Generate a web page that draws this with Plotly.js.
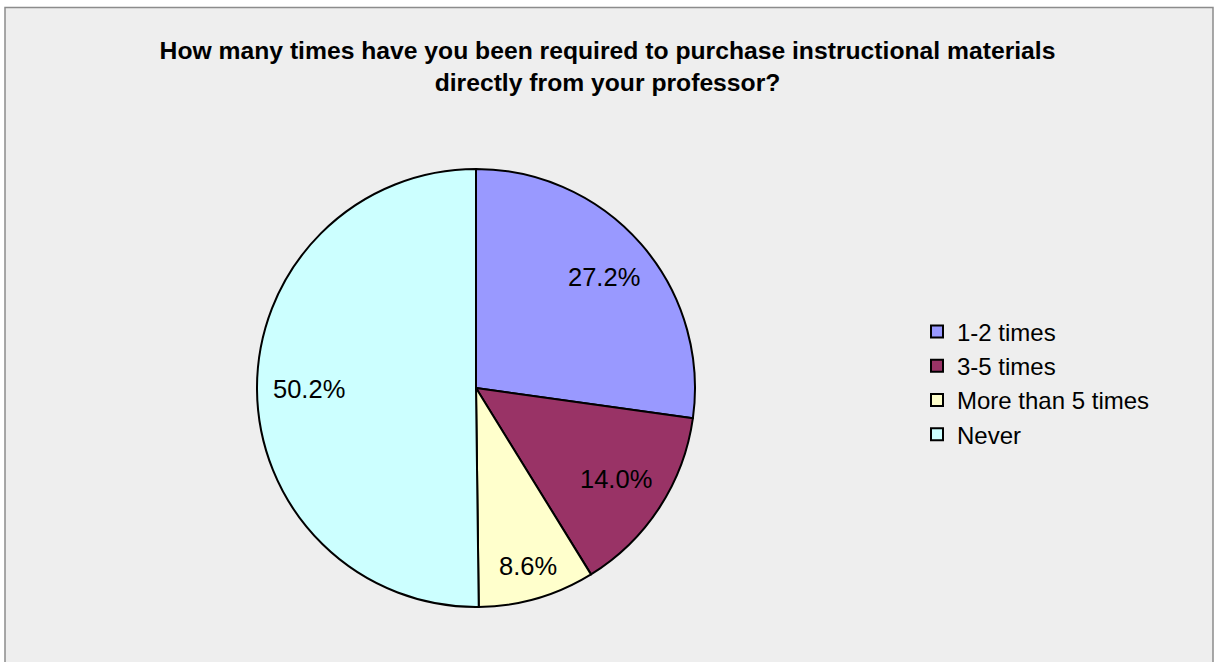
<!DOCTYPE html>
<html>
<head>
<meta charset="utf-8">
<script src="https://cdn.plot.ly/plotly-3.0.1.min.js"></script>
<style>html,body{margin:0;padding:0;background:#fff;}#chart{width:1215px;height:662px;}</style>
</head>
<body>
<div id="chart"></div>
<script>
const categories = ["1-2 times", "3-5 times", "More than 5 times", "Never"];
const values = [27.2, 14.0, 8.6, 50.2];
const sliceColors = ["#9999FF", "#993366", "#FFFFCC", "#CCFFFF"];
const chartTitle = "How many times have you been required to purchase instructional materials<br>directly from your professor?";

const W = 1215, H = 662;
const cx = 476, cy = 388, R = 219;
const FONT = "Liberation Sans, Arial, sans-serif";
const labelSize = 25.5;

// Data labels placed like the original ("inside end"): outer edge of text box near 0.927 R
const ctx = document.createElement("canvas").getContext("2d");
ctx.font = labelSize + "px 'Liberation Sans'";
const total = values.reduce((a, b) => a + b, 0);
let cum = 0;
const annotations = values.map((v) => {
  const mid = (cum + v / 2) / total * 2 * Math.PI;
  cum += v;
  const txt = (v / total * 100).toFixed(1) + "%";
  const hw = ctx.measureText(txt).width / 2, hh = labelSize * 0.4;
  const ext = Math.abs(Math.sin(mid)) * hw + Math.abs(Math.cos(mid)) * hh;
  const d = 0.927 * R - ext;
  const px = cx + d * Math.sin(mid), py = cy - d * Math.cos(mid);
  return {
    text: txt, xref: "paper", yref: "paper",
    x: px / W, y: 1 - py / H, xanchor: "center", yanchor: "middle",
    showarrow: false, font: { family: FONT, size: labelSize, color: "#000000" }
  };
});

const trace = {
  type: "pie",
  labels: categories,
  values: values,
  sort: false,
  direction: "clockwise",
  rotation: 0,
  marker: { colors: sliceColors, line: { color: "#000000", width: 2 } },
  textinfo: "none",
  domain: { x: [(cx - R) / W, (cx + R) / W], y: [(H - cy - R) / H, (H - cy + R) / H] },
  hoverinfo: "label+percent"
};

const layout = {
  width: W, height: H,
  margin: { l: 0, r: 0, t: 0, b: 0 },
  paper_bgcolor: "#ffffff",
  title: {
    text: chartTitle,
    x: 0.5, xanchor: "center",
    y: 1 - 59 / H, yanchor: "middle",
    font: { family: FONT, size: 24.7, color: "#000000", weight: "bold" }
  },
  showlegend: true,
  legend: {
    x: 917 / W, xanchor: "left",
    y: 1 - 383 / H, yanchor: "middle",
    font: { family: FONT, size: 24, color: "#000000" },
    bgcolor: "rgba(0,0,0,0)",
    itemclick: false
  },
  annotations: annotations,
  shapes: [{
    type: "rect", xref: "paper", yref: "paper", layer: "below",
    x0: 5 / W, x1: 1213 / W, y0: -0.05, y1: 1 - 7.5 / H,
    fillcolor: "#eeeeee", line: { color: "#8c8c8c", width: 1.5 }
  }]
};

Plotly.newPlot("chart", [trace], layout, { displayModeBar: false, staticPlot: true });
</script>
</body>
</html>
